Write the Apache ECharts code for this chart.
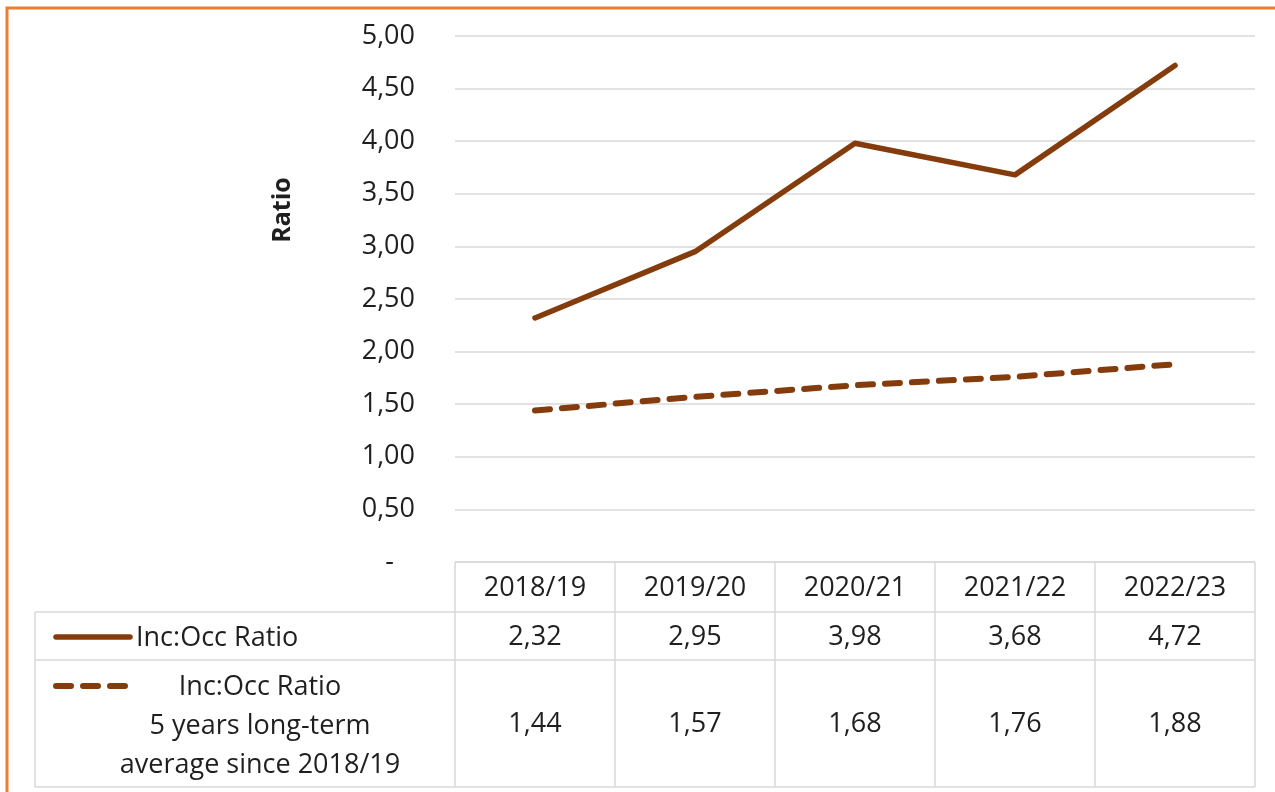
<!DOCTYPE html>
<html>
<head>
<meta charset="utf-8">
<script src="https://cdn.jsdelivr.net/npm/echarts@6.0.0/dist/echarts.min.js"></script>
<style>
  html, body { margin: 0; padding: 0; background: #fff; }
  #chart { width: 1275px; height: 792px; }
</style>
</head>
<body>
<div id="chart"></div>
<script>
// data
const years = ['2018/19', '2019/20', '2020/21', '2021/22', '2022/23'];
const incOccRatio = [2.32, 2.95, 3.98, 3.68, 4.72];
const longTermAvg = [1.44, 1.57, 1.68, 1.76, 1.88];
const seriesNames = ['Inc:Occ Ratio', 'Inc:Occ Ratio\n5 years long-term\naverage since 2018/19'];

const FONT = 'Open Sans';
const TEXT = '#1f1f1f';
const BROWN = '#843C0C';
const GRIDC = '#D9D9D9';

const fmt = v => v.toFixed(2).replace('.', ',');

const chart = echarts.init(document.getElementById('chart'));

const option = {
  animation: false,
  backgroundColor: '#fff',
  grid: { left: 455, right: 20, top: 36, height: 526 },
  xAxis: {
    type: 'category',
    data: years,
    boundaryGap: true,
    axisLine: { show: false },
    axisTick: { show: false },
    axisLabel: { show: false }
  },
  yAxis: {
    type: 'value',
    min: 0,
    max: 5,
    interval: 0.5,
    axisLine: { show: false },
    axisTick: { show: false },
    splitLine: { lineStyle: { color: GRIDC, width: 1.5 } },
    axisLabel: {
      fontFamily: FONT,
      fontSize: 27,
      color: TEXT,
      margin: 40,
      formatter: v => (v === 0 ? '-   ' : fmt(v))
    }
  },
  series: [
    {
      name: seriesNames[0],
      type: 'line',
      data: incOccRatio,
      symbol: 'none',
      lineStyle: { color: BROWN, width: 5.5, cap: 'round', join: 'round' }
    },
    {
      name: seriesNames[1],
      type: 'line',
      data: longTermAvg,
      symbol: 'none',
      lineStyle: { color: BROWN, width: 6, type: [15, 12], cap: 'round' }
    }
  ]
};

chart.setOption(option);

// data table under the plot, placed from the category axis
const colX = years.map(y => chart.convertToPixel({ xAxisIndex: 0 }, y));
const colW = colX.length > 1 ? colX[1] - colX[0] : 160;
const left = colX[0] - colW / 2;
const right = colX[colX.length - 1] + colW / 2;
const tableLeft = 35;
const yTop = chart.convertToPixel({ yAxisIndex: 0 }, 0);
const yRow1 = 612, yRow2 = 660, yBottom = 787;

const lineStyle = { stroke: GRIDC, lineWidth: 1.5 };
const g = [];
const hLine = (x1, x2, y) => g.push({ type: 'line', shape: { x1, y1: y, x2, y2: y }, style: lineStyle, silent: true });
const vLine = (x, y1, y2) => g.push({ type: 'line', shape: { x1: x, y1, x2: x, y2 }, style: lineStyle, silent: true });

hLine(left, right, yTop);
hLine(tableLeft, right, yRow1);
hLine(tableLeft, right, yRow2);
hLine(tableLeft, right, yBottom);
vLine(tableLeft, yRow1, yBottom);
for (let i = 0; i <= years.length; i++) vLine(left + i * colW, yTop, yBottom);

const txt = (x, y, text, extra) => g.push({
  type: 'text', x, y, silent: true,
  style: Object.assign({ text, fill: TEXT, font: `27px "${FONT}"`, align: 'center', verticalAlign: 'middle' }, extra || {})
});

years.forEach((y, i) => {
  txt(colX[i], (yTop + yRow1) / 2 + 1, y);
  txt(colX[i], (yRow1 + yRow2) / 2 + 1, fmt(incOccRatio[i]));
  txt(colX[i], (yRow2 + yBottom) / 2 + 1, fmt(longTermAvg[i]));
});

// axis title
g.push({ type: 'text', x: 283, y: 210, rotation: Math.PI / 2, silent: true,
  style: { text: 'Ratio', fill: TEXT, font: `bold 25px "${FONT}"`, align: 'center', verticalAlign: 'middle' } });

// row headers with legend keys
g.push({ type: 'line', shape: { x1: 56, y1: 637, x2: 130, y2: 637 }, style: { stroke: BROWN, lineWidth: 5.5, lineCap: 'round' }, silent: true });
txt(136, 638, seriesNames[0], { align: 'left' });
g.push({ type: 'line', shape: { x1: 56, y1: 686, x2: 132, y2: 686 }, style: { stroke: BROWN, lineWidth: 6, lineCap: 'round', lineDash: [15, 12] }, silent: true });
txt(260, 726, seriesNames[1], { lineHeight: 39 });

// orange frame
g.push({ type: 'rect', shape: { x: 7, y: 8, width: 1300, height: 820 }, style: { fill: 'none', stroke: '#ED7D31', lineWidth: 3 }, silent: true, z: 100 });

chart.setOption({ graphic: g });
</script>
</body>
</html>
